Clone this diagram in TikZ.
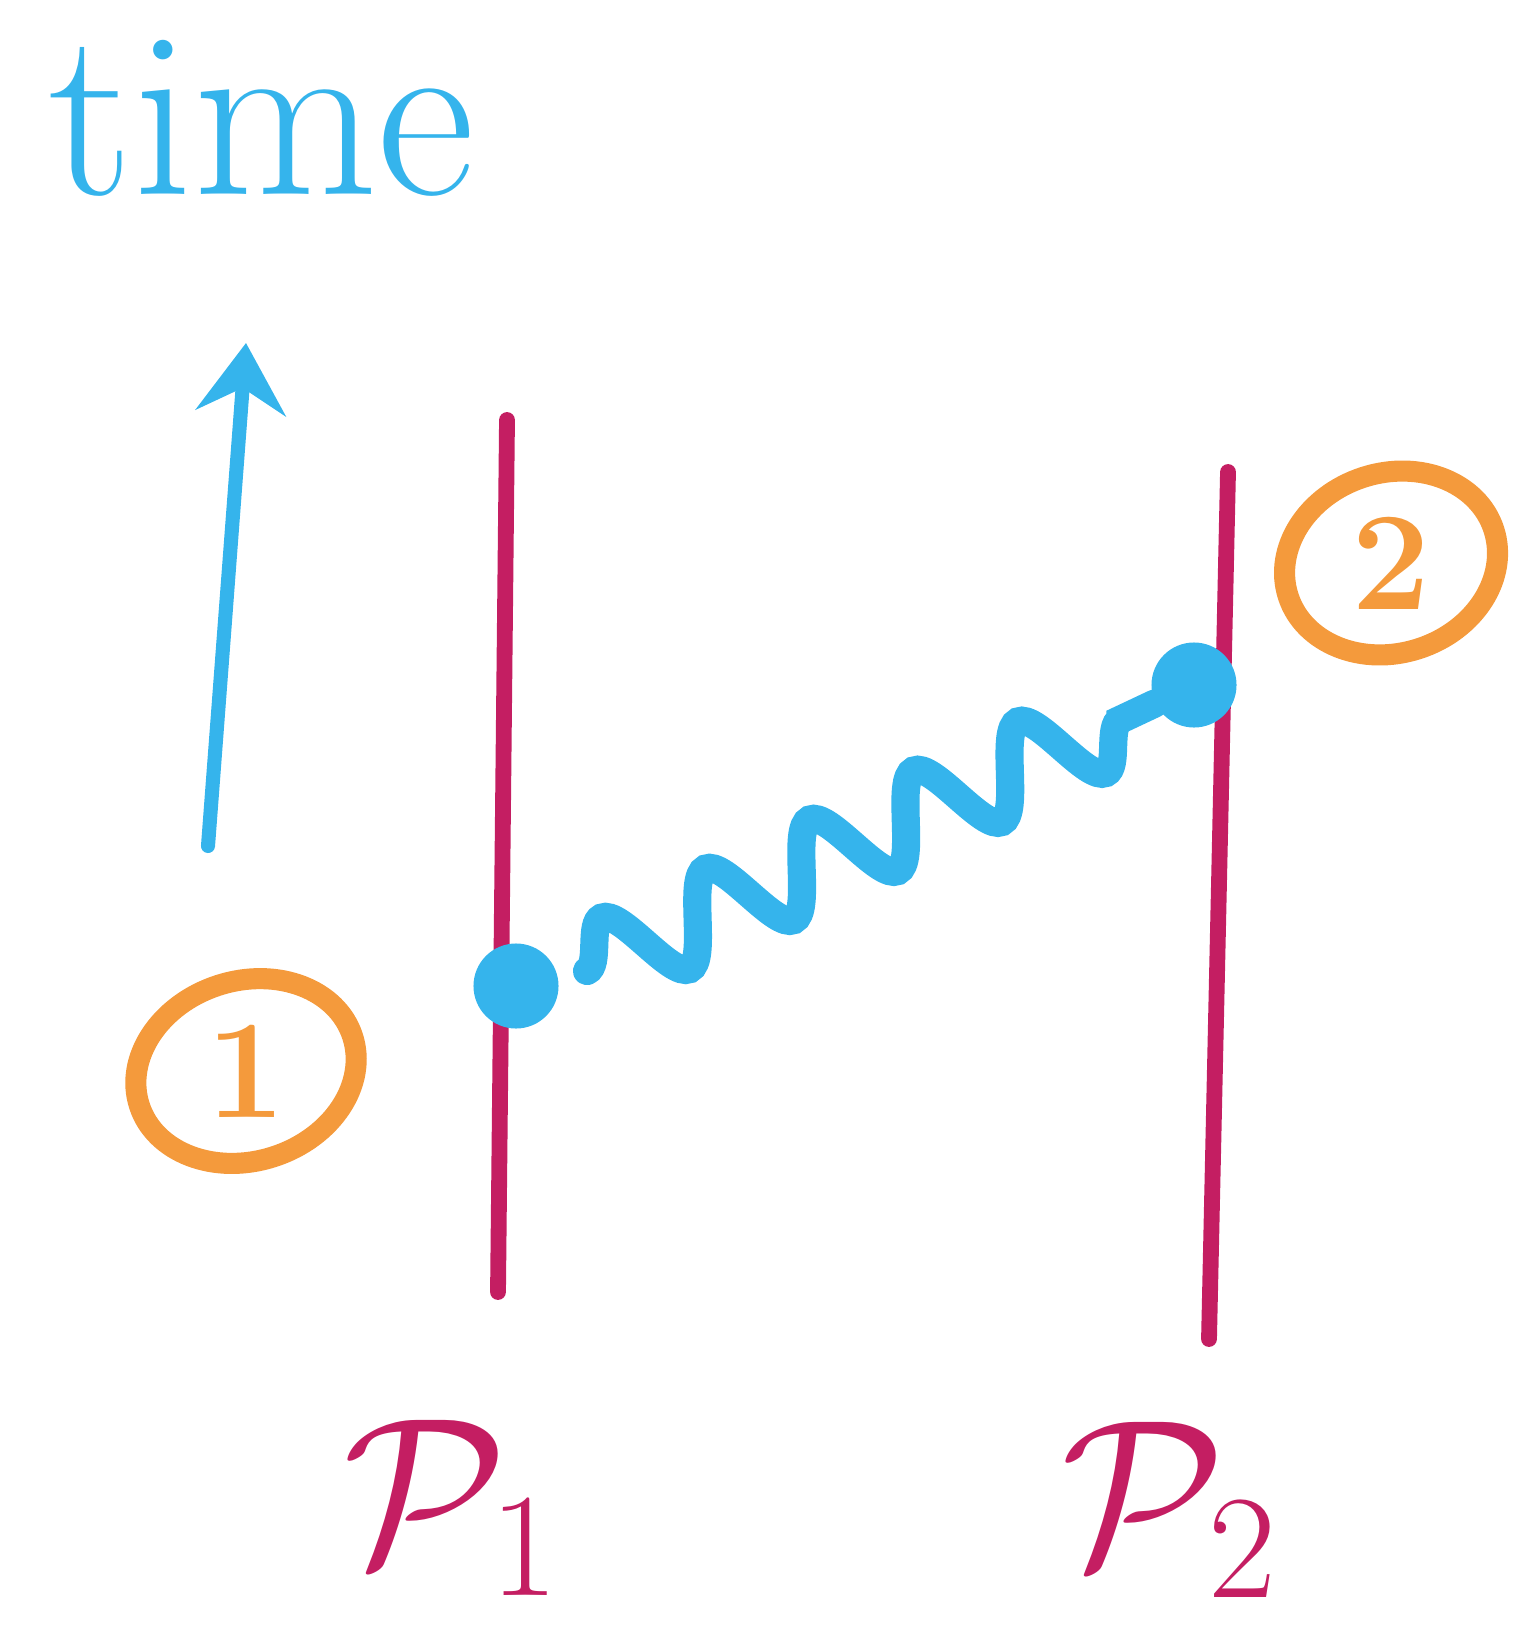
\RequirePackage{fix-cm}
\documentclass[tikz,border=0pt]{standalone}
\usepackage{xcolor}
\usepackage{tikz}
\usetikzlibrary{
    arrows.meta,
    positioning,
    shapes.geometric,
    decorations.pathmorphing,
    calc
}
\definecolor{skyblue}{HTML}{35B4EC}
\definecolor{berry}{HTML}{C41E62}
\definecolor{tangerine}{HTML}{F49A3C}
\tikzstyle{worldline} = [berry, line width=4.5pt, line cap=round]
\tikzstyle{vertex} = [circle, fill=skyblue, inner sep=0pt, minimum size=0.85cm]
\tikzstyle{photon} = [skyblue, line width=8pt, line cap=round,
    decorate, decoration={snake, segment length=1.15cm, amplitude=0.42cm, post length=0.3cm}]
\tikzstyle{tag} = [text=tangerine, font=\fontsize{40}{44}\bfseries\selectfont]
\tikzstyle{ring} = [draw=tangerine, line width=6pt]
\tikzstyle{plabel} = [berry, inner sep=1pt, font=\fontsize{60}{66}\selectfont]

\begin{document}
\begin{tikzpicture}[x=0.01cm,y=-0.01cm, thick]
    \useasboundingbox (0,0) rectangle (1525,1628);
    % time axis
    \node[skyblue, font=\fontsize{68}{74}\selectfont] (time) at (262,118) {time};
    \coordinate (tlow) at (208,846);
    \coordinate (thigh) at (246,343);
    \draw[skyblue, line width=4pt, line cap=round,
        -{Stealth[length=0.7cm, width=0.9cm, inset=0.25cm]}] (tlow) -- (thigh);
    % world lines of the two particles
    \coordinate (p1top) at (507,420);
    \coordinate (p1bot) at (498,1292);
    \coordinate (p2top) at (1228,472);
    \coordinate (p2bot) at (1209,1339);
    \draw[worldline] (p1top) -- (p1bot);
    \draw[worldline] (p2top) -- (p2bot);
    % exchange
    \node[vertex] (ev1) at (516,986) {};
    \node[vertex] (ev2) at (1194,685) {};
    \coordinate (wstart) at (587,971);
    \draw[photon] (wstart) -- (ev2);
    % event labels
    \node[tag] (tag1) at (246,1071) {1};
    \node[tag] (tag2) at (1391,563) {2};
    \draw[ring, rotate around={18:(tag1)}] (tag1) ellipse [x radius=1.12cm, y radius=0.9cm];
    \draw[ring, rotate around={18:(tag2)}] (tag2) ellipse [x radius=1.08cm, y radius=0.9cm];
    % particle labels
    \node[plabel] (lab1) at (452,1508) {$\mathcal{P}_1$};
    \node[plabel] (lab2) at (1170,1510) {$\mathcal{P}_2$};
\end{tikzpicture}
\end{document}
